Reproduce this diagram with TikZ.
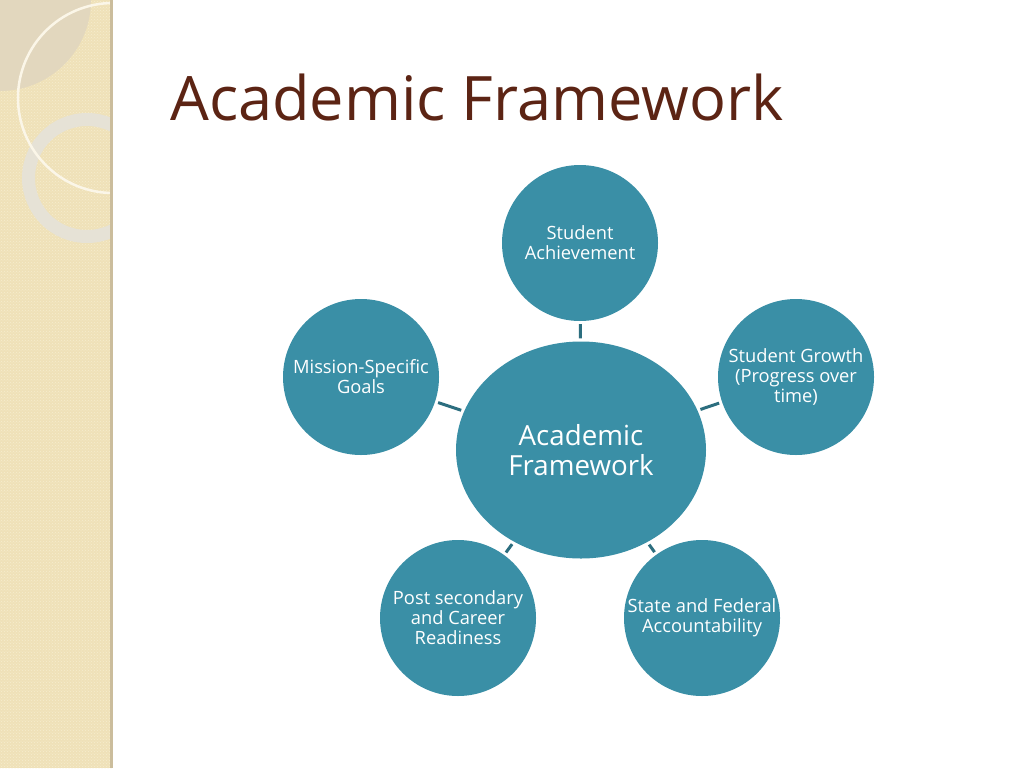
\documentclass[tikz,border=0pt]{standalone}
\usepackage{fontspec}
\setmainfont{Open Sans}
\usepackage{tikz}
\usepackage{xcolor}
\usetikzlibrary{shapes.geometric, positioning, patterns}
\definecolor{circleteal}{HTML}{3A8FA6}
\definecolor{linkteal}{HTML}{2C6E7F}
\definecolor{titlebrown}{HTML}{5C2414}
\definecolor{stripbeige}{HTML}{EFE1B8}
\definecolor{stripdots}{HTML}{F6EDCF}
\definecolor{diskgray}{HTML}{E2D7BE}
\definecolor{ringgray}{HTML}{E6E2D6}
\definecolor{arcwhite}{HTML}{FBF6E8}
\definecolor{edgegray}{HTML}{CBBD9C}
\tikzset{hub/.style={ellipse,fill=circleteal,text=white,minimum width=250pt,minimum height=217pt,inner sep=0pt,align=center,font=\fontsize{27.7}{30}\selectfont}}
\tikzset{goal/.style={circle,fill=circleteal,text=white,minimum size=156pt,inner sep=0pt,align=center,font=\fontsize{18.3}{20}\selectfont}}
\tikzset{link/.style={draw=linkteal,line width=3pt,shorten <=3pt,shorten >=3pt}}
\tikzset{heading/.style={text=titlebrown,inner sep=0pt,font=\fontsize{61.3}{72}\selectfont}}

\begin{document}
\begin{tikzpicture}[x=1pt,y=-1pt]
      \useasboundingbox (0,0) rectangle (1024,768);
      \fill[white] (0,0) rectangle (1024,768);

      \begin{scope}
        \clip (0,0) rectangle (112,768);
        \fill[stripbeige] (0,0) rectangle (112,768);
        \fill[pattern=crosshatch dots, pattern color=stripdots] (0,0) rectangle (112,768);
        \fill[diskgray] (0,0) circle (91pt);
        \draw[ringgray, line width=13pt] (87,178) circle (58.5pt);
        \draw[arcwhite, line width=2.5pt] (113,98) circle (95pt);
      \end{scope}
      \fill[edgegray] (110,0) rectangle (113,768);

      \node[heading, anchor=base west] (title) at (170,120) {Academic Framework};

      \node[hub] (hub) at (581,450) {Academic\\Framework};
      \node[goal] (achieve) at (580,243) {Student\\Achievement};
      \node[goal] (growth) at (796,377) {Student Growth\\(Progress over\\time)};
      \node[goal] (account) at (702,618) {State and Federal\\Accountability};
      \node[goal] (career) at (458,618) {Post secondary\\and Career\\Readiness};
      \node[goal] (mission) at (361,377) {Mission-Specific\\Goals};

      \foreach \n in {achieve,growth,account,career,mission}
        \draw[link] (hub) -- (\n);
  \end{tikzpicture}
\end{document}
